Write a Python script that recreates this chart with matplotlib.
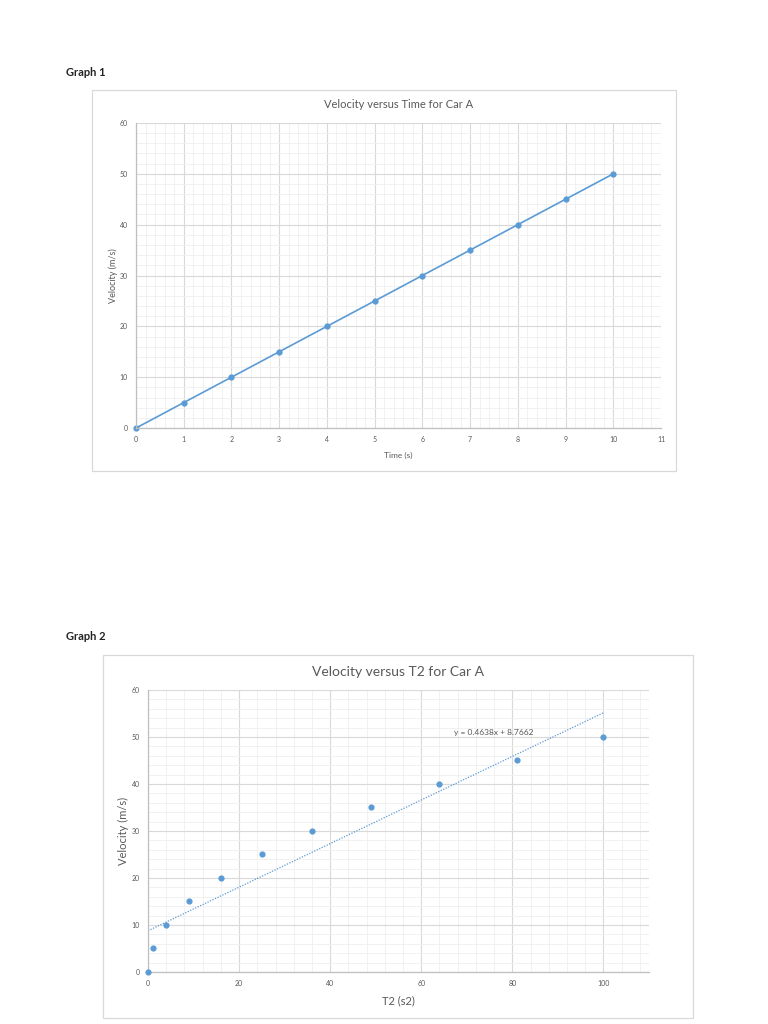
import numpy as np
import matplotlib.pyplot as plt
from matplotlib.patches import Rectangle
from matplotlib.ticker import MultipleLocator

# Data
time_s = [0, 1, 2, 3, 4, 5, 6, 7, 8, 9, 10]
velocity = [0, 5, 10, 15, 20, 25, 30, 35, 40, 45, 50]
time_sq = [0, 1, 4, 9, 16, 25, 36, 49, 64, 81, 100]
trend_slope = 0.4638
trend_icept = 8.7662

plt.rcParams['font.family'] = ['Lato', 'DejaVu Sans']

blue = '#5B9BD5'
txt = '#595959'
major_c = '#D9D9D9'
minor_c = '#EFEFEF'

fig = plt.figure(figsize=(7.68, 10.24), dpi=100)

# Page labels
fig.text(66 / 768, 1 - 73 / 1024, 'Graph 1', fontsize=8, fontweight='bold', color='#222222', va='center')
fig.text(66 / 768, 1 - 637 / 1024, 'Graph 2', fontsize=8, fontweight='bold', color='#222222', va='center')

# Chart borders
fig.patches.append(Rectangle((0.1198, 0.540), 0.7604, 0.3721, transform=fig.transFigure,
                             fill=False, edgecolor='#D9D9D9', linewidth=0.9))
fig.patches.append(Rectangle((0.1341, 0.0059), 0.7682, 0.3545, transform=fig.transFigure,
                             fill=False, edgecolor='#D9D9D9', linewidth=0.9))


def style_axes(ax, xmaj, xmin, ymaj, ymin, tick_fs):
    ax.xaxis.set_major_locator(MultipleLocator(xmaj))
    ax.xaxis.set_minor_locator(MultipleLocator(xmin))
    ax.yaxis.set_major_locator(MultipleLocator(ymaj))
    ax.yaxis.set_minor_locator(MultipleLocator(ymin))
    ax.grid(which='major', color=major_c, linewidth=0.8)
    ax.grid(which='minor', color=minor_c, linewidth=0.6)
    ax.set_axisbelow(True)
    for s in ['top', 'right']:
        ax.spines[s].set_visible(False)
    for s in ['left', 'bottom']:
        ax.spines[s].set_color('#BFBFBF')
        ax.spines[s].set_linewidth(0.9)
    ax.tick_params(which='both', length=0, labelsize=tick_fs, colors=txt, pad=6)


# Graph 1
ax1 = fig.add_axes([0.1771, 0.582, 0.6836, 0.2979])
ax1.plot(time_s, velocity, color=blue, linewidth=1.2, marker='o', markersize=3.5, clip_on=False)
ax1.set_xlim(0, 11)
ax1.set_ylim(0, 60)
style_axes(ax1, 1, 0.2, 10, 2, 5)
ax1.set_title('Velocity versus Time for Car A', fontsize=8, color=txt, pad=11)
ax1.set_xlabel('Time (s)', fontsize=6, color=txt, labelpad=6)
ax1.set_ylabel('Velocity (m/s)', fontsize=6.5, color=txt, labelpad=1)

# Graph 2
ax2 = fig.add_axes([0.1927, 0.0508, 0.6523, 0.2754])
ax2.scatter(time_sq, velocity, color=blue, s=12, zorder=3, clip_on=False)
xfit = np.array([min(time_sq), max(time_sq)])
ax2.plot(xfit, trend_slope * xfit + trend_icept, color=blue, linewidth=0.9,
         linestyle=(0, (1, 1.2)), zorder=2)
ax2.text(76, 51, 'y = 0.4638x + 8.7662', fontsize=6, color=txt, ha='center', va='center')
ax2.set_xlim(0, 110)
ax2.set_ylim(0, 60)
style_axes(ax2, 20, 4, 10, 2, 5)
ax2.set_title('Velocity versus T2 for Car A', fontsize=10, color=txt, pad=10)
ax2.set_xlabel('T2 (s2)', fontsize=8, color=txt, labelpad=6)
ax2.set_ylabel('Velocity (m/s)', fontsize=8, color=txt, labelpad=2)

fig.savefig('out.png', dpi=100)
